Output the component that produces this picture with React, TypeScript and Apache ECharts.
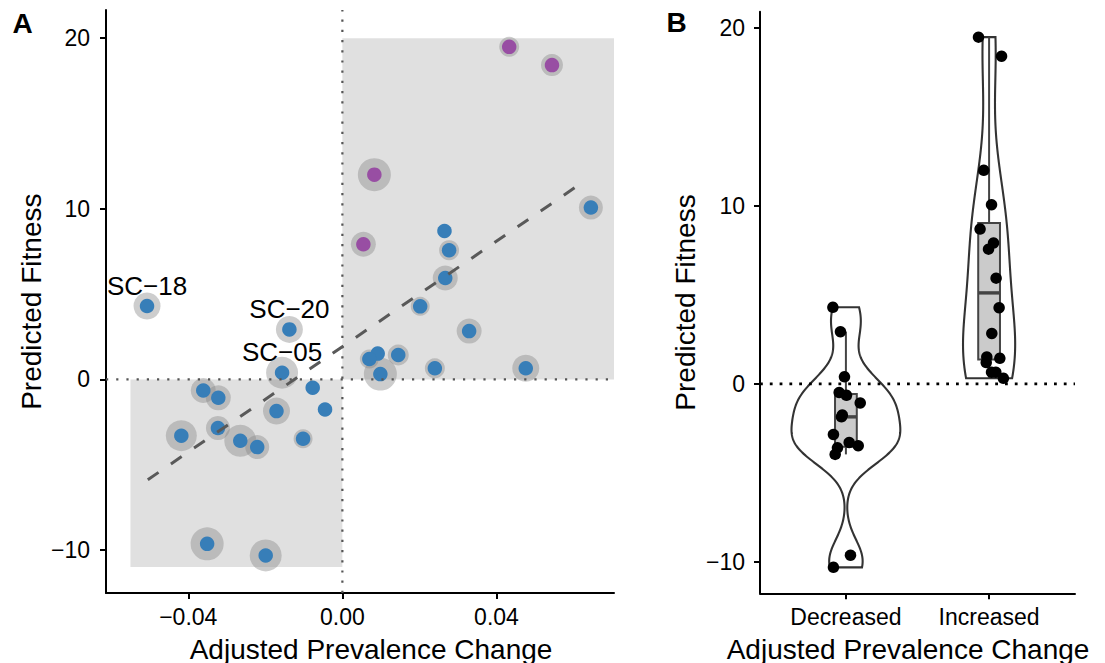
import React, { useEffect, useRef } from "react";
import * as echarts from "echarts";

const FONT = "'Liberation Sans', Arial, Helvetica, sans-serif";

// ---------- data ----------
const categories = ["Decreased", "Increased"];
const prevalenceChange = [
  0.0433, 0.0544, 0.0083, 0.00545, 0.0645, 0.0265, 0.0277, 0.0267, -0.0507, 0.0202,
  -0.01375, 0.0329, 0.00917, 0.007, 0.0145, -0.01565, 0.024, 0.0476, 0.00986, -0.0361,
  -0.0322, -0.0077, -0.0045, -0.0171, -0.0418, -0.0323, -0.0265, -0.0221, -0.0102, -0.0351,
  -0.0199,
];
const predictedFitness = [
  19.49, 18.42, 12.0, 7.92, 10.07, 8.7, 7.57, 5.94, 4.3, 4.28,
  2.93, 2.83, 1.51, 1.19, 1.43, 0.39, 0.65, 0.65, 0.31, -0.65,
  -1.08, -0.49, -1.76, -1.86, -3.3, -2.85, -3.6, -3.97, -3.48, -9.64,
  -10.32,
];
const highlighted = [
  1, 1, 1, 1, 0, 0, 0, 0, 0, 0,
  0, 0, 0, 0, 0, 0, 0, 0, 0, 0,
  0, 0, 0, 0, 0, 0, 0, 0, 0, 0,
  0,
];
const uncertainty = [
  0.3, 0.4, 0.95, 0.55, 0.5, 0, 0.3, 0.55, 0.65, 0.25,
  0.65, 0.55, 0, 0.25, 0.35, 0.9, 0.3, 0.65, 0.95, 0.55,
  0.55, 0, 0, 0.65, 0.85, 0.5, 0.9, 0.5, 0.25, 0.95,
  0.9,
];
const strainLabels = [
  "", "", "", "", "", "", "", "", "SC\u221218", "",
  "SC\u221220", "", "", "", "", "SC\u221205", "", "", "", "",
  "", "", "", "", "", "", "", "", "", "",
  "",
];
const jitter = [
  -0.074, 0.087, -0.037, 0.031, 0.017, -0.063, -0.004, 0.049, -0.091, 0.07,
  -0.038, 0.019, -0.016, -0.02, 0.075, -0.01, 0.017, 0.047, 0.1, 0.004,
  0.1, -0.047, -0.025, -0.031, 0.023, -0.087, -0.059, -0.075, 0.086, 0.032,
  -0.087,
];
const shadeX0 = [-0.055, 0];
const shadeX1 = [0, 0.0705];
const shadeY0 = [-11, 0];
const shadeY1 = [0, 20];
const fitX = [-0.0505, 0.0619];
const fitY = [-5.88, 11.48];
const xTicksA = [-0.04, 0, 0.04];
const yTicksA = [-10, 0, 10, 20];
const yTicksB = [-10, 0, 10, 20];

// axis limits
const xLimA = [-0.06135, 0.0705];
const yLimA = [-12.52, 21.65];
const xLimB = [0.4, 2.6];
const yLimB = [-11.78, 20.92];

// ---------- stats helpers ----------
function quantile(sorted: number[], p: number) {
  const h = (sorted.length - 1) * p;
  const lo = Math.floor(h);
  const hi = Math.ceil(h);
  return sorted[lo] + (h - lo) * (sorted[hi] - sorted[lo]);
}
function sdev(a: number[]) {
  const m = a.reduce((s, v) => s + v, 0) / a.length;
  return Math.sqrt(a.reduce((s, v) => s + (v - m) * (v - m), 0) / (a.length - 1));
}
function bwNrd0(a: number[]) {
  const s = [...a].sort((p, q) => p - q);
  const iqr = quantile(s, 0.75) - quantile(s, 0.25);
  const lo = Math.min(sdev(a), iqr / 1.34);
  return 0.9 * lo * Math.pow(a.length, -0.2);
}
function kde(a: number[], bw: number, y: number) {
  let s = 0;
  for (const v of a) {
    const z = (y - v) / bw;
    s += Math.exp(-0.5 * z * z);
  }
  return s / (a.length * bw * Math.sqrt(2 * Math.PI));
}

const groupValues: number[][] = [[], []];
const pointsB: number[][] = [];
prevalenceChange.forEach((x, i) => {
  const g = x < 0 ? 0 : 1;
  groupValues[g].push(predictedFitness[i]);
  pointsB.push([g + 1 + jitter[i], predictedFitness[i]]);
});

const VIOLIN_HALF = 0.38;
const BOX_HALF = 0.076;

const violinProfiles = groupValues.map((vals) => {
  const bw = bwNrd0(vals);
  const mn = Math.min(...vals);
  const mx = Math.max(...vals);
  const N = 256;
  const prof: number[][] = [];
  for (let k = 0; k < N; k++) {
    const y = mn + ((mx - mn) * k) / (N - 1);
    prof.push([y, kde(vals, bw, y)]);
  }
  return prof;
});
const maxDens = Math.max(...violinProfiles.map((p) => Math.max(...p.map((d) => d[1]))));

const boxStats = groupValues.map((vals, g) => {
  const s = [...vals].sort((p, q) => p - q);
  const q1 = quantile(s, 0.25);
  const med = quantile(s, 0.5);
  const q3 = quantile(s, 0.75);
  const iqr = q3 - q1;
  const lw = Math.min(...s.filter((v) => v >= q1 - 1.5 * iqr));
  const uw = Math.max(...s.filter((v) => v <= q3 + 1.5 * iqr));
  return [g + 1, lw, q1, med, q3, uw];
});

const fmtMinus = (v: number, d: number) => (v < 0 ? "\u2212" : "") + Math.abs(v).toFixed(d);

function axisCommon(ticks: number[], formatter: any, margin: number) {
  return {
    axisLine: { show: true, onZero: false, lineStyle: { color: "#000", width: 2 } },
    axisTick: { show: true, customValues: ticks, length: 6, lineStyle: { color: "#000", width: 2 } },
    axisLabel: {
      customValues: ticks,
      formatter,
      fontSize: 23,
      color: "#000",
      fontFamily: FONT,
      margin,
    },
    splitLine: { show: false },
  };
}

export default function App() {
  const ref = useRef<HTMLDivElement>(null);
  useEffect(() => {
    if (!ref.current) return;
    const chart = echarts.init(ref.current, undefined, { renderer: "svg" });

    const haloData: any[] = [];
    const blueData: any[] = [];
    const purpleData: any[] = [];
    prevalenceChange.forEach((x, i) => {
      const y = predictedFitness[i];
      if (uncertainty[i] > 0) haloData.push({ value: [x, y], symbolSize: 14 + 20 * uncertainty[i] });
      const item: any = { value: [x, y], name: strainLabels[i] };
      if (strainLabels[i]) item.label = { show: true };
      if (highlighted[i]) purpleData.push(item);
      else blueData.push(item);
    });

    const option: any = {
      animation: false,
      textStyle: { fontFamily: FONT },
      grid: [
        { left: 106, top: 10, width: 508, height: 583 },
        { left: 760, top: 11.7, width: 315, height: 581.6 },
      ],
      xAxis: [
        {
          type: "value",
          gridIndex: 0,
          min: xLimA[0],
          max: xLimA[1],
          ...axisCommon(xTicksA, (v: number) => fmtMinus(v, 2), 12.5),
        },
        {
          type: "value",
          gridIndex: 1,
          min: xLimB[0],
          max: xLimB[1],
          ...axisCommon([1, 2], (v: number) => categories[Math.round(v) - 1] || "", 12.5),
        },
      ],
      yAxis: [
        {
          type: "value",
          gridIndex: 0,
          min: yLimA[0],
          max: yLimA[1],
          ...axisCommon(yTicksA, (v: number) => fmtMinus(v, 0), 16),
        },
        {
          type: "value",
          gridIndex: 1,
          min: yLimB[0],
          max: yLimB[1],
          ...axisCommon(yTicksB, (v: number) => fmtMinus(v, 0), 15),
        },
      ],
      series: [
        {
          type: "custom",
          xAxisIndex: 0,
          yAxisIndex: 0,
          silent: true,
          data: shadeX0.map((x0, i) => [x0, shadeY0[i], shadeX1[i], shadeY1[i]]),
          encode: { x: [0, 2], y: [1, 3] },
          renderItem: (params: any, api: any) => {
            const p0 = api.coord([api.value(0), api.value(3)]);
            const p1 = api.coord([api.value(2), api.value(1)]);
            return {
              type: "rect",
              shape: { x: p0[0], y: p0[1], width: p1[0] - p0[0], height: p1[1] - p0[1] },
              style: { fill: "#e0e0e0" },
            };
          },
        },
        {
          type: "line",
          xAxisIndex: 0,
          yAxisIndex: 0,
          silent: true,
          showSymbol: false,
          data: [[0, yLimA[0]], [0, yLimA[1]]],
          lineStyle: { color: "#555", width: 2.2, type: [2.2, 8] },
        },
        {
          type: "line",
          xAxisIndex: 0,
          yAxisIndex: 0,
          silent: true,
          showSymbol: false,
          data: [[xLimA[0], 0], [xLimA[1], 0]],
          lineStyle: { color: "#555", width: 2.2, type: [2.2, 8] },
        },
        {
          type: "scatter",
          xAxisIndex: 0,
          yAxisIndex: 0,
          silent: true,
          data: haloData,
          itemStyle: { color: "rgba(135,135,135,0.42)", opacity: 1 },
        },
        {
          type: "line",
          xAxisIndex: 0,
          yAxisIndex: 0,
          silent: true,
          showSymbol: false,
          data: fitX.map((x, i) => [x, fitY[i]]),
          lineStyle: { color: "#595959", width: 3, type: [13, 15] },
        },
        {
          type: "scatter",
          xAxisIndex: 0,
          yAxisIndex: 0,
          silent: true,
          symbolSize: 14.5,
          data: blueData,
          itemStyle: { color: "#377EB8", opacity: 1 },
          label: {
            show: false,
            position: "inside",
            offset: [0, -20.5],
            formatter: "{b}",
            fontSize: 26,
            fontFamily: FONT,
            color: "#000",
          },
        },
        {
          type: "scatter",
          xAxisIndex: 0,
          yAxisIndex: 0,
          silent: true,
          symbolSize: 14.5,
          data: purpleData,
          itemStyle: { color: "#984EA3", opacity: 1 },
        },
        // Panel B
        {
          type: "line",
          xAxisIndex: 1,
          yAxisIndex: 1,
          silent: true,
          showSymbol: false,
          data: [[xLimB[0], 0], [xLimB[1], 0]],
          lineStyle: { color: "#000", width: 2.8, type: [2.8, 7] },
        },
        {
          type: "custom",
          xAxisIndex: 1,
          yAxisIndex: 1,
          silent: true,
          data: [[1, 0, 0], [2, 0, 1]],
          encode: { x: 0, y: 1 },
          renderItem: (params: any, api: any) => {
            const c = api.value(0);
            const g = api.value(2);
            const prof = violinProfiles[g];
            const left = prof.map(([y, d]) => api.coord([c - (VIOLIN_HALF * d) / maxDens, y]));
            const right = prof
              .slice()
              .reverse()
              .map(([y, d]) => api.coord([c + (VIOLIN_HALF * d) / maxDens, y]));
            return {
              type: "polygon",
              shape: { points: left.concat(right) },
              style: { fill: "none", stroke: "#333", lineWidth: 2.1 },
            };
          },
        },
        {
          type: "custom",
          xAxisIndex: 1,
          yAxisIndex: 1,
          silent: true,
          data: boxStats,
          encode: { x: 0, y: 3 },
          renderItem: (params: any, api: any) => {
            const c = api.value(0);
            const lw = api.value(1);
            const q1 = api.value(2);
            const med = api.value(3);
            const q3 = api.value(4);
            const uw = api.value(5);
            const top = api.coord([c, uw]);
            const bot = api.coord([c, lw]);
            const tl = api.coord([c - BOX_HALF, q3]);
            const br = api.coord([c + BOX_HALF, q1]);
            const m = api.coord([c, med]);
            return {
              type: "group",
              children: [
                {
                  type: "line",
                  shape: { x1: top[0], y1: top[1], x2: bot[0], y2: bot[1] },
                  style: { stroke: "#444", lineWidth: 2 },
                },
                {
                  type: "rect",
                  shape: { x: tl[0], y: tl[1], width: br[0] - tl[0], height: br[1] - tl[1] },
                  style: { fill: "#cbcbcb", stroke: "#444", lineWidth: 2 },
                },
                {
                  type: "line",
                  shape: { x1: tl[0], y1: m[1], x2: br[0], y2: m[1] },
                  style: { stroke: "#444", lineWidth: 3.4 },
                },
              ],
            };
          },
        },
        {
          type: "scatter",
          xAxisIndex: 1,
          yAxisIndex: 1,
          silent: true,
          symbolSize: 11.5,
          data: pointsB,
          itemStyle: { color: "#000", opacity: 1 },
        },
      ],
      graphic: [
        {
          type: "text",
          x: 12.5,
          y: 23,
          style: { text: "A", fontSize: 28, fontWeight: "bold", fontFamily: FONT, fill: "#000", align: "left", verticalAlign: "middle" },
        },
        {
          type: "text",
          x: 666.5,
          y: 22.5,
          style: { text: "B", fontSize: 28, fontWeight: "bold", fontFamily: FONT, fill: "#000", align: "left", verticalAlign: "middle" },
        },
        {
          type: "text",
          x: 371,
          y: 649,
          style: { text: "Adjusted Prevalence Change", fontSize: 28, fontFamily: FONT, fill: "#000", align: "center", verticalAlign: "middle" },
        },
        {
          type: "text",
          x: 908,
          y: 649,
          style: { text: "Adjusted Prevalence Change", fontSize: 28, fontFamily: FONT, fill: "#000", align: "center", verticalAlign: "middle" },
        },
        {
          type: "text",
          x: 31.7,
          y: 301.7,
          rotation: Math.PI / 2,
          style: { text: "Predicted Fitness", fontSize: 28, fontFamily: FONT, fill: "#000", align: "center", verticalAlign: "middle" },
        },
        {
          type: "text",
          x: 685.7,
          y: 302.5,
          rotation: Math.PI / 2,
          style: { text: "Predicted Fitness", fontSize: 28, fontFamily: FONT, fill: "#000", align: "center", verticalAlign: "middle" },
        },
      ],
    };
    chart.setOption(option);
    return () => chart.dispose();
  }, []);
  return (
    <div
      ref={ref}
      style={{ position: "absolute", left: 0, top: 0, width: 1105, height: 663, background: "#fff" }}
    />
  );
}
